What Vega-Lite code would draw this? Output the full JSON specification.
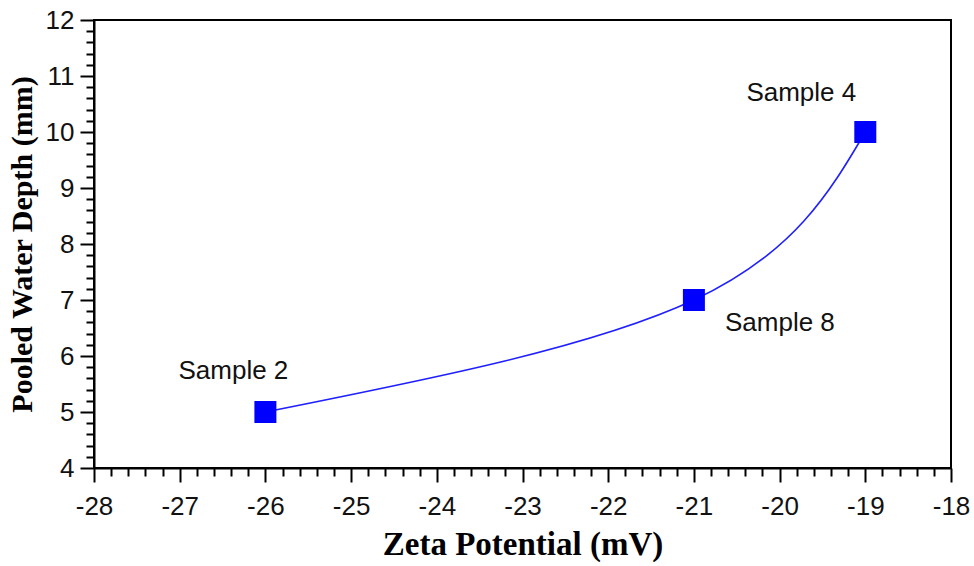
{
  "$schema": "https://vega.github.io/schema/vega-lite/v6.json",
  "width": 857,
  "height": 448,
  "autosize": {"type": "none"},
  "padding": {"left": 94, "top": 20, "right": 23, "bottom": 98},
  "background": "white",
  "config": {
    "view": {"stroke": "black", "strokeWidth": 2},
    "axis": {
      "grid": false,
      "domainColor": "black",
      "domainWidth": 2,
      "tickColor": "black",
      "tickWidth": 2,
      "labelFont": "Liberation Sans",
      "labelFontSize": 26,
      "labelColor": "#111111",
      "labelFlush": false,
      "labelOverlap": false,
      "titleFont": "Liberation Serif",
      "titleFontWeight": "bold",
      "titleColor": "black"
    }
  },
  "data": {
    "values": [
      {"zeta": -26, "depth": 5, "label": "Sample 2"},
      {"zeta": -21, "depth": 7, "label": "Sample 8"},
      {"zeta": -19, "depth": 10, "label": "Sample 4"}
    ]
  },
  "encoding": {
    "x": {
      "field": "zeta",
      "type": "quantitative",
      "scale": {"domain": [-28, -18], "nice": false, "zero": false},
      "axis": {
        "title": "Zeta Potential (mV)",
        "titleFontSize": 33,
        "titlePadding": 9,
        "labelPadding": 11,
        "values": [-28, -27.8, -27.6, -27.4, -27.2, -27, -26.8, -26.6, -26.4, -26.2, -26, -25.8, -25.6, -25.4, -25.2, -25, -24.8, -24.6, -24.4, -24.2, -24, -23.8, -23.6, -23.4, -23.2, -23, -22.8, -22.6, -22.4, -22.2, -22, -21.8, -21.6, -21.4, -21.2, -21, -20.8, -20.6, -20.4, -20.2, -20, -19.8, -19.6, -19.4, -19.2, -19, -18.8, -18.6, -18.4, -18.2, -18],
        "labelExpr": "abs(datum.value % 1) < 0.001 ? '' + datum.value : ''",
        "tickSize": {"condition": {"test": "abs(datum.value % 1) < 0.001", "value": 14}, "value": 8}
      }
    },
    "y": {
      "field": "depth",
      "type": "quantitative",
      "scale": {"domain": [4, 12], "nice": false, "zero": false},
      "axis": {
        "title": "Pooled Water Depth (mm)",
        "titleFontSize": 30,
        "titlePadding": 8,
        "labelPadding": 6,
        "values": [4, 4.2, 4.4, 4.6, 4.8, 5, 5.2, 5.4, 5.6, 5.8, 6, 6.2, 6.4, 6.6, 6.8, 7, 7.2, 7.4, 7.6, 7.8, 8, 8.2, 8.4, 8.6, 8.8, 9, 9.2, 9.4, 9.6, 9.8, 10, 10.2, 10.4, 10.6, 10.8, 11, 11.2, 11.4, 11.6, 11.8, 12],
        "labelExpr": "abs(datum.value % 1) < 0.001 ? '' + datum.value : ''",
        "tickSize": {"condition": {"test": "abs(datum.value % 1) < 0.001", "value": 14}, "value": 8}
      }
    }
  },
  "layer": [
    {
      "mark": {"type": "line", "interpolate": "natural", "color": "#2020ff", "strokeWidth": 1.6}
    },
    {
      "mark": {"type": "point", "shape": "square", "filled": true, "size": 484, "color": "#0000ff", "opacity": 1}
    },
    {
      "transform": [{"filter": "datum.label === 'Sample 2'"}],
      "mark": {"type": "text", "font": "Liberation Sans", "fontSize": 26, "color": "#111111", "dx": -32, "dy": -41},
      "encoding": {"text": {"field": "label"}}
    },
    {
      "transform": [{"filter": "datum.label === 'Sample 8'"}],
      "mark": {"type": "text", "font": "Liberation Sans", "fontSize": 26, "color": "#111111", "dx": 86, "dy": 23},
      "encoding": {"text": {"field": "label"}}
    },
    {
      "transform": [{"filter": "datum.label === 'Sample 4'"}],
      "mark": {"type": "text", "font": "Liberation Sans", "fontSize": 26, "color": "#111111", "dx": -64, "dy": -39},
      "encoding": {"text": {"field": "label"}}
    }
  ]
}
